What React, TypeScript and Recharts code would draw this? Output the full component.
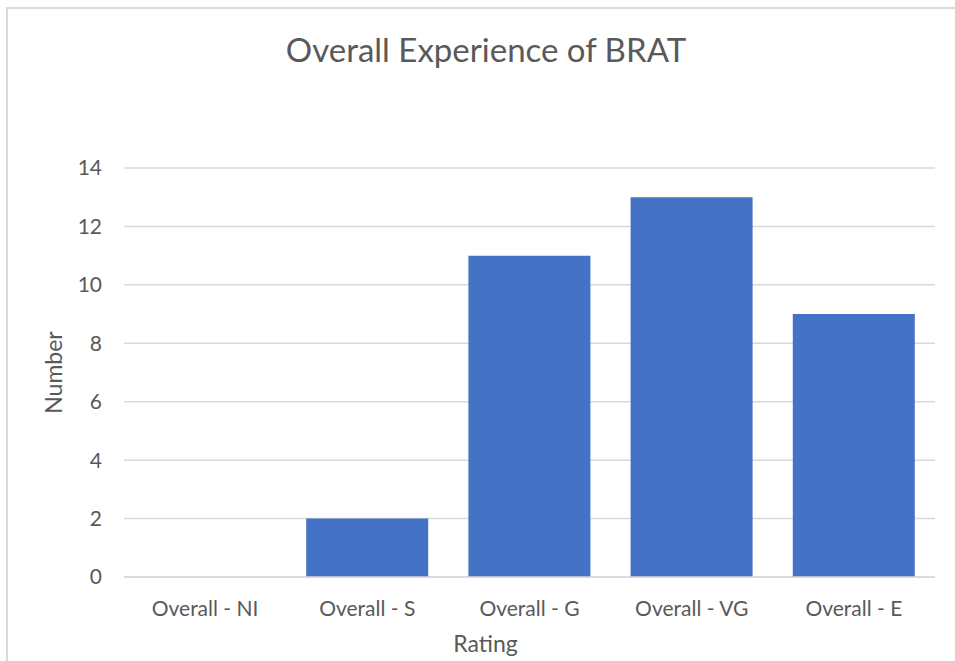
import { Bar, BarChart, CartesianGrid, XAxis, YAxis } from "recharts";

const ratings = ["Overall - NI", "Overall - S", "Overall - G", "Overall - VG", "Overall - E"];
const counts = [0, 2, 11, 13, 9];
const yTicks = [0, 2, 4, 6, 8, 10, 12, 14];

const data = ratings.map((rating, i) => ({ rating, number: counts[i] }));

const textColor = "#595959";
const gridColor = "#d9d9d9";
const font = "Lato, 'Open Sans', sans-serif";

export default function App() {
  return (
    <div
      style={{
        position: "absolute",
        left: 0,
        top: 0,
        width: 955,
        height: 661,
        background: "#fff",
        fontFamily: font,
      }}
    >
      {/* chart frame: only top and left edges are visible */}
      <div
        style={{
          position: "absolute",
          left: 6,
          top: 7,
          right: 0,
          bottom: 0,
          borderTop: `2px solid ${gridColor}`,
          borderLeft: `2px solid ${gridColor}`,
        }}
      />
      <div
        style={{
          position: "absolute",
          left: 86,
          top: 33,
          width: 800,
          textAlign: "center",
          fontSize: 33,
          lineHeight: "33px",
          color: textColor,
          whiteSpace: "nowrap",
        }}
      >
        Overall Experience of BRAT
      </div>
      <BarChart
        width={955}
        height={661}
        data={data}
        margin={{ top: 168, right: 20, bottom: 0, left: 0 }}
        barCategoryGap={20}
        style={{ position: "absolute", left: 0, top: 0, fontFamily: font }}
      >
        <CartesianGrid vertical={false} stroke={gridColor} strokeWidth={1.5} />
        <XAxis
          dataKey="rating"
          height={84}
          tickLine={false}
          tickSize={0}
          tickMargin={24}
          axisLine={{ stroke: gridColor, strokeWidth: 1.5 }}
          tick={{ fontSize: 21, fill: textColor }}
          label={{
            value: "Rating",
            position: "insideBottom",
            offset: 9,
            dx: -44,
            style: { fontSize: 23, fill: textColor },
          }}
        />
        <YAxis
          width={124}
          domain={[0, 14]}
          ticks={yTicks}
          axisLine={false}
          tickLine={false}
          tickSize={0}
          tickMargin={22}
          tick={{ fontSize: 21, fill: textColor }}
          label={{
            value: "Number",
            angle: -90,
            position: "insideLeft",
            offset: 54,
            style: { fontSize: 23, fill: textColor, textAnchor: "middle" },
          }}
        />
        <Bar dataKey="number" fill="#4472c4" isAnimationActive={false} />
      </BarChart>
    </div>
  );
}
